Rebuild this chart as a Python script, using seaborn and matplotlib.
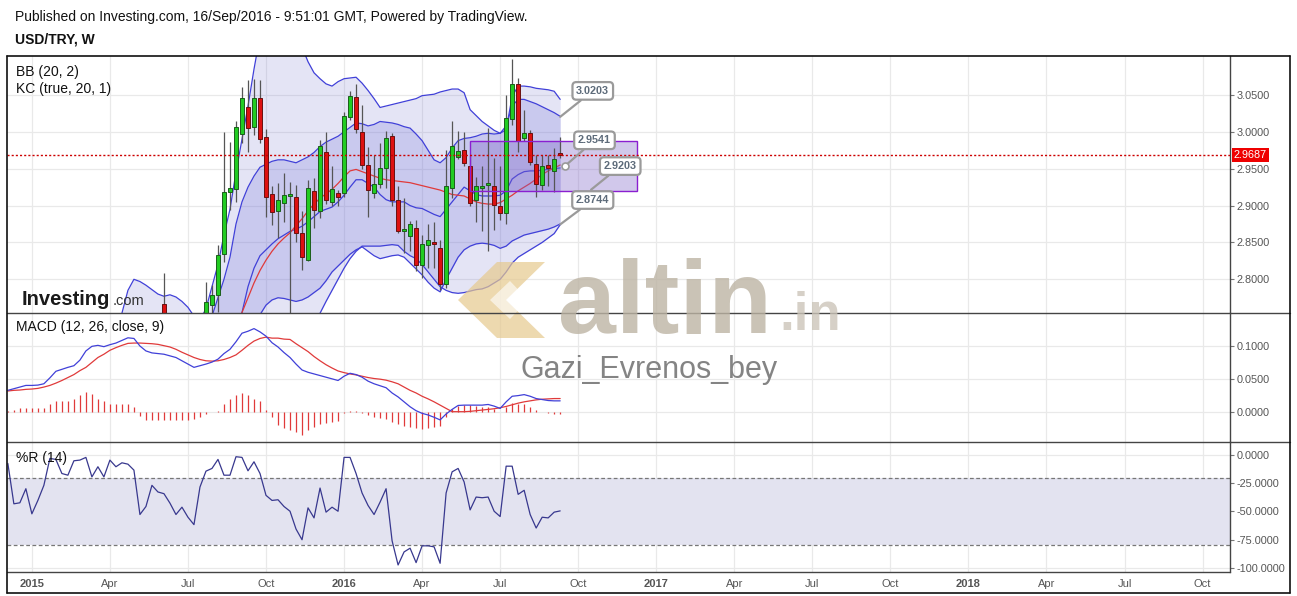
import numpy as np
import pandas as pd
import matplotlib
matplotlib.use("Agg")
import matplotlib.pyplot as plt
import matplotlib.dates as mdates
import matplotlib.transforms as mtransforms
from matplotlib.patches import Rectangle, Polygon
import seaborn as sns

sns.set_style("white")
plt.rcParams['font.family'] = ['Liberation Sans', 'DejaVu Sans']

# ---------------- data ----------------
candle_start = "2015-06-08"
candle_open = [2.767, 2.72, 2.69, 2.68, 2.685, 2.69, 2.68, 2.74, 2.7655, 2.779, 2.834, 2.918, 2.922, 2.997, 3.034,
               3.006, 3.0455, 2.9935, 2.9155, 2.892, 2.904, 2.913, 2.911, 2.8626, 2.826, 2.920, 2.893, 2.972, 2.9055,
               2.917, 2.917, 3.020, 3.047, 3.000, 2.955, 2.917, 2.929, 2.951, 2.995, 2.907, 2.866, 2.859, 2.869, 2.820,
               2.846, 2.850, 2.842, 2.793, 2.924, 2.966, 2.975, 2.954, 2.908, 2.924, 2.928, 2.926, 2.900, 2.890, 3.018,
               3.0645, 2.991, 2.998, 2.956, 2.928, 2.955, 2.947, 2.971]
candle_high = [2.808, 2.74, 2.71, 2.70, 2.70, 2.71, 2.72, 2.797, 2.7925, 2.847, 3.000, 2.986, 3.014, 3.061, 3.070,
               3.0717, 3.070, 3.004, 2.926, 2.930, 2.944, 2.9325, 2.928, 2.892, 2.935, 2.938, 2.989, 3.000, 2.953,
               2.921, 3.027, 3.055, 3.0645, 3.036, 2.980, 2.969, 2.985, 3.001, 2.998, 2.926, 2.910, 2.879, 2.881, 2.860,
               2.875, 2.878, 2.8535, 2.975, 3.014, 3.001, 3.000, 2.969, 2.939, 2.953, 3.005, 2.964, 2.953, 3.050, 3.0988,
               3.0726, 3.030, 3.0026, 2.969, 2.969, 2.9687, 2.978, 2.9935]
candle_low = [2.72, 2.68, 2.66, 2.66, 2.66, 2.66, 2.67, 2.71, 2.752, 2.755, 2.824, 2.894, 2.9055, 2.9845, 2.973, 2.996,
              2.985, 2.885, 2.874, 2.856, 2.878, 2.74, 2.851, 2.813, 2.825, 2.869, 2.883, 2.902, 2.900, 2.899, 2.911,
              3.016, 2.998, 2.950, 2.885, 2.910, 2.924, 2.924, 2.899, 2.863, 2.835, 2.838, 2.811, 2.802, 2.815, 2.815,
              2.786, 2.788, 2.910, 2.963, 2.953, 2.899, 2.878, 2.866, 2.838, 2.867, 2.881, 2.875, 3.009, 2.973, 2.987,
              2.955, 2.912, 2.921, 2.926, 2.919, 2.965]
candle_close = [2.725, 2.69, 2.68, 2.685, 2.69, 2.68, 2.71, 2.769, 2.779, 2.833, 2.919, 2.924, 3.007, 3.0455, 3.005,
                3.0465, 2.990, 2.911, 2.8906, 2.908, 2.9145, 2.915, 2.863, 2.830, 2.924, 2.894, 2.981, 2.907, 2.922,
                2.912, 3.0215, 3.048, 3.004, 2.955, 2.921, 2.929, 2.951, 2.991, 2.907, 2.866, 2.868, 2.875, 2.820,
                2.848, 2.853, 2.848, 2.794, 2.926, 2.981, 2.9745, 2.958, 2.903, 2.927, 2.926, 2.930, 2.901, 2.890,
                3.019, 3.0645, 2.988, 2.998, 2.959, 2.929, 2.953, 2.951, 2.963, 2.9687]

band_start = "2015-04-20"
bb_upper = [2.754, 2.785, 2.800, 2.797, 2.792, 2.786, 2.780, 2.777, 2.779, 2.776, 2.770, 2.762, 2.750, 2.745, 2.760,
            2.79, 2.82, 2.86, 2.895,
            2.945, 2.99, 3.035, 3.085, 3.13, 3.15, 3.16, 3.165, 3.16, 3.15,
            3.135, 3.115, 3.095, 3.08, 3.072, 3.065, 3.062, 3.068, 3.072, 3.073,
            3.074, 3.066, 3.056, 3.045, 3.033, 3.035, 3.037, 3.039, 3.041, 3.043,
            3.045, 3.049, 3.050, 3.051, 3.054, 3.056, 3.058, 3.058, 3.053, 3.030,
            3.022, 3.014, 3.008, 3.002, 2.998, 3.003, 3.048, 3.062, 3.062, 3.061,
            3.059, 3.058, 3.057, 3.055, 3.044]
bb_lower = [2.50, 2.51, 2.52, 2.53, 2.54, 2.55, 2.56, 2.57, 2.58, 2.59, 2.60, 2.61, 2.62, 2.63, 2.63, 2.63, 2.63,
            2.62, 2.61, 2.60, 2.60, 2.61, 2.62, 2.64, 2.65, 2.66, 2.67, 2.68,
            2.69, 2.70, 2.715, 2.73, 2.742, 2.754, 2.77, 2.785, 2.80, 2.815,
            2.828, 2.838, 2.845, 2.845, 2.845, 2.845, 2.846, 2.847, 2.846, 2.838,
            2.832, 2.828, 2.82, 2.81, 2.80, 2.79, 2.785, 2.782, 2.781, 2.782,
            2.784, 2.786, 2.787, 2.79, 2.795, 2.80, 2.81, 2.822, 2.83, 2.835,
            2.84, 2.845, 2.85, 2.856, 2.862, 2.874]
bb_basis = [2.60, 2.61, 2.62, 2.63, 2.64, 2.65, 2.655, 2.66, 2.665, 2.67, 2.675, 2.68, 2.685, 2.69, 2.695, 2.70,
            2.71, 2.72, 2.73,
            2.74, 2.755, 2.775, 2.795, 2.812, 2.826, 2.838, 2.848, 2.856, 2.863,
            2.873, 2.882, 2.893, 2.902, 2.910, 2.916, 2.922, 2.930, 2.939, 2.947,
            2.949, 2.946, 2.943, 2.940, 2.937, 2.935, 2.934, 2.933, 2.932, 2.931,
            2.929, 2.927, 2.925, 2.923, 2.921, 2.918, 2.915, 2.914, 2.913, 2.909,
            2.905, 2.903, 2.902, 2.902, 2.904, 2.909, 2.914, 2.920, 2.925, 2.930,
            2.936, 2.942, 2.947, 2.951, 2.955]
kc_upper = [2.68, 2.69, 2.70, 2.705, 2.71, 2.715, 2.72, 2.725, 2.725, 2.725, 2.725, 2.725, 2.728, 2.73, 2.74,
            2.75, 2.775, 2.80, 2.83, 2.875, 2.905, 2.925, 2.94, 2.952, 2.956,
            2.96, 2.962, 2.962, 2.960, 2.958, 2.962, 2.966, 2.972, 2.980, 2.986,
            2.990, 2.994, 3.000, 3.006, 3.012, 3.011, 3.008, 3.010, 3.014, 3.013,
            3.012, 3.010, 3.007, 3.005, 2.997, 2.988, 2.975, 2.962, 2.958, 2.965,
            2.978, 2.988, 2.991, 2.992, 2.994, 2.997, 2.998, 2.997, 2.998, 3.008,
            3.035, 3.044, 3.044, 3.041, 3.038, 3.034, 3.030, 3.026, 3.021]
kc_basis = [2.62, 2.63, 2.64, 2.645, 2.65, 2.655, 2.66, 2.665, 2.668, 2.67, 2.672, 2.675, 2.678, 2.68, 2.685, 2.69,
            2.70, 2.71, 2.72,
            2.735, 2.755, 2.79, 2.815, 2.832, 2.84, 2.848, 2.855, 2.86, 2.865,
            2.868, 2.872, 2.878, 2.885, 2.892, 2.895, 2.898, 2.905, 2.914, 2.925,
            2.935, 2.935, 2.93, 2.925, 2.915, 2.908, 2.905, 2.905, 2.905, 2.90,
            2.897, 2.896, 2.892, 2.888, 2.885, 2.895, 2.905, 2.915, 2.925, 2.92,
            2.915, 2.913, 2.913, 2.913, 2.914, 2.92, 2.936, 2.942, 2.946, 2.947,
            2.947, 2.948, 2.949, 2.95, 2.951]
kc_lower = [2.55, 2.56, 2.57, 2.575, 2.58, 2.585, 2.59, 2.595, 2.60, 2.60, 2.60, 2.605, 2.61, 2.61, 2.615, 2.62,
            2.625, 2.63, 2.645,
            2.66, 2.70, 2.72, 2.74, 2.752, 2.765, 2.772, 2.775, 2.774, 2.772,
            2.770, 2.772, 2.776, 2.782, 2.788, 2.798, 2.810, 2.818, 2.826, 2.834,
            2.840, 2.844, 2.838, 2.832, 2.828, 2.830, 2.832, 2.833, 2.83, 2.822,
            2.814, 2.806, 2.796, 2.788, 2.783, 2.80, 2.815, 2.83, 2.84, 2.845,
            2.848, 2.849, 2.848, 2.846, 2.842, 2.845, 2.852, 2.856, 2.86, 2.862,
            2.864, 2.866, 2.868, 2.871, 2.875]

osc_start = "2014-12-08"
macd_line = [0.0325, 0.035, 0.0375, 0.040, 0.040, 0.0405, 0.0425, 0.0515, 0.0615, 0.0645, 0.0675, 0.070, 0.0785,
             0.0925, 0.0995, 0.101, 0.099, 0.102, 0.1045, 0.1085, 0.1125, 0.1115, 0.100, 0.0925, 0.0895, 0.0885,
             0.0875, 0.085, 0.0825, 0.0775, 0.0725, 0.0675, 0.070, 0.0725, 0.0755, 0.080, 0.0885, 0.095, 0.1065,
             0.1195, 0.1225, 0.1265, 0.1215, 0.115, 0.105, 0.0985, 0.090, 0.0825, 0.0725, 0.0635, 0.060, 0.0575,
             0.055, 0.0525, 0.050, 0.0475, 0.054, 0.0585, 0.0565, 0.0525, 0.0465, 0.0425, 0.0395, 0.0365, 0.0285,
             0.0225, 0.015, 0.0075, 0.0015, -0.0025, -0.005, -0.0085, -0.0125, -0.0035, 0.0035, 0.0095, 0.010, 0.010,
             0.010, 0.010, 0.011, 0.0085, 0.005, 0.015, 0.0235, 0.0245, 0.026, 0.0235, 0.020, 0.0185, 0.017, 0.0165,
             0.0165]
macd_signal = [0.0315, 0.0325, 0.033, 0.034, 0.0345, 0.0355, 0.0375, 0.040, 0.0435, 0.0475, 0.052, 0.0565, 0.0625,
               0.0675, 0.075, 0.0825, 0.0875, 0.0935, 0.0975, 0.101, 0.104, 0.1045, 0.1045, 0.104, 0.1035, 0.1025,
               0.1005, 0.0985, 0.095, 0.0905, 0.0865, 0.0825, 0.0795, 0.0775, 0.077, 0.0775, 0.0795, 0.0825, 0.0865,
               0.0935, 0.101, 0.1075, 0.1115, 0.1135, 0.112, 0.112, 0.1105, 0.110, 0.1035, 0.0975, 0.0915, 0.084,
               0.0775, 0.0715, 0.0665, 0.062, 0.0595, 0.0575, 0.056, 0.054, 0.052, 0.0505, 0.0495, 0.048, 0.0455,
               0.0425, 0.0375, 0.0325, 0.0285, 0.0235, 0.0195, 0.015, 0.010, 0.005, 0.0, 0.0, 0.0, 0.0005, 0.0015,
               0.0025, 0.0035, 0.0045, 0.006, 0.008, 0.0105, 0.013, 0.015, 0.0165, 0.018, 0.019, 0.0195, 0.020, 0.020]
macd_hist = [0.001, 0.003, 0.005, 0.006, 0.005, 0.005, 0.006, 0.011, 0.017, 0.017, 0.017, 0.019, 0.026, 0.030, 0.027,
             0.020, 0.016, 0.012, 0.012, 0.012, 0.011, 0.007, -0.006, -0.012, -0.013, -0.013, -0.013, -0.013, -0.012,
             -0.013, -0.013, -0.011, -0.008, -0.004, -0.001, 0.001, 0.011, 0.019, 0.025, 0.029, 0.026, 0.020, 0.016,
             0.003, -0.008, -0.020, -0.025, -0.028, -0.031, -0.035, -0.028, -0.024, -0.018, -0.017, -0.015, -0.014,
             -0.002, 0.001, 0.0005, -0.002, -0.005, -0.008, -0.010, -0.011, -0.016, -0.019, -0.022, -0.024, -0.025,
             -0.026, -0.025, -0.023, -0.022, -0.008, 0.004, 0.009, 0.010, 0.010, 0.008, 0.007, 0.007, 0.004, -0.001,
             0.007, 0.013, 0.012, 0.011, 0.007, 0.002, -0.0005, -0.0025, -0.0035, -0.0035]
williams_r = [-7.5, -43.3, -42.4, -29.9, -52.2, -40.3, -26.9, -3.0, -3.9, -16.4, -17.9, -5.1, -4.5, -2.1, -19.4,
              -10.4, -19.4, -4.5, -10.4, -6.9, -8.1, -13.4, -52.8, -45.7, -26.9, -32.8, -34.3, -42.7, -52.8, -46.3,
              -55.2, -61.8, -28.4, -14.3, -11.9, -3.9, -17.9, -17.9, -1.5, -2.1, -14.0, -6.0, -16.4, -35.8, -40.3,
              -39.7, -45.7, -49.9, -65.7, -75.2, -46.9, -55.8, -29.3, -50.7, -46.3, -49.9, -2.1, -2.1, -16.4, -33.7,
              -44.8, -52.8, -41.8, -29.9, -76.1, -97.6, -86.0, -82.7, -95.5, -80.6, -80.6, -81.5, -96.1, -33.7,
              -14.9, -11.9, -23.9, -48.7, -37.3, -37.9, -37.3, -49.9, -54.6, -9.9, -9.9, -34.9, -31.3, -52.8, -64.8,
              -55.2, -55.8, -50.7, -49.6]

last_price = 2.9687
callout_values = ["3.0203", "2.9541", "2.9203", "2.8744"]
box_top, box_bottom = 2.9877, 2.9203
price_ticks = [2.80, 2.85, 2.90, 2.95, 3.00, 3.05]
macd_ticks = [0.0, 0.05, 0.10]
wr_ticks = [0, -25, -50, -75, -100]
quarter_ticks = ["2015-01-05", "2015-04-06", "2015-07-06", "2015-10-05", "2016-01-04", "2016-04-04", "2016-07-04",
                 "2016-10-03", "2017-01-02", "2017-04-03", "2017-07-03", "2017-10-02", "2018-01-01", "2018-04-02",
                 "2018-07-02", "2018-10-01"]
quarter_labels = ["2015", "Apr", "Jul", "Oct", "2016", "Apr", "Jul", "Oct", "2017", "Apr", "Jul", "Oct", "2018",
                  "Apr", "Jul", "Oct"]

# ---------------- frames ----------------
cd = mdates.date2num(pd.date_range(candle_start, periods=len(candle_open), freq="7D"))
bd = mdates.date2num(pd.date_range(band_start, periods=len(bb_upper), freq="7D"))
od = mdates.date2num(pd.date_range(osc_start, periods=len(macd_line), freq="7D"))
bands = pd.DataFrame(dict(t=bd, bbu=bb_upper, bbl=bb_lower, bbm=bb_basis, kcu=kc_upper, kcm=kc_basis,
                          kcl=kc_lower))
osc = pd.DataFrame(dict(t=od, macd=macd_line, sig=macd_signal, histo=macd_hist, wr=williams_r))

W, H = 1297, 596
def fx(px): return px / W
def fy(py): return 1 - py / H

fig = plt.figure(figsize=(W / 100, H / 100), dpi=100)
L, R = 7, 1230
T0, T1, T2, T3 = 56.3, 313.3, 442.3, 572.3
ax_p = fig.add_axes([fx(L), fy(T1), fx(R) - fx(L), fy(T0) - fy(T1)])
ax_m = fig.add_axes([fx(L), fy(T2), fx(R) - fx(L), fy(T1) - fy(T2)], sharex=ax_p)
ax_r = fig.add_axes([fx(L), fy(T3), fx(R) - fx(L), fy(T2) - fy(T3)], sharex=ax_p)

xmin = mdates.date2num(pd.Timestamp("2014-12-07"))
xmax = mdates.date2num(pd.Timestamp("2018-11-02"))
qt = mdates.date2num(pd.to_datetime(quarter_ticks))

grid_c = "#e9e9e9"
txt_c = "#555555"
for ax in (ax_p, ax_m, ax_r):
    ax.set_facecolor("white")
    for s in ("top", "bottom", "left"):
        ax.spines[s].set_visible(False)
    ax.spines["right"].set_color("#444444")
    ax.spines["right"].set_linewidth(1.0)
    ax.yaxis.tick_right()
    ax.tick_params(axis="y", direction="out", length=3, width=0.8, colors="#777777",
                   labelcolor=txt_c, labelsize=7.8, pad=2)
    for q in qt:
        ax.axvline(q, color=grid_c, lw=0.9, zorder=0)

# ---- price panel ----
for v in price_ticks:
    ax_p.axhline(v, color=grid_c, lw=0.9, zorder=0)

ax_p.fill_between(bands.t, bands.bbl, bands.bbu, color="#7a7ad0", alpha=0.20, lw=0, zorder=1)
ax_p.fill_between(bands.t, bands.kcl, bands.kcu, color="#6a6ad8", alpha=0.22, lw=0, zorder=1)
line_c = "#4040d8"
for col in ("bbu", "bbl", "kcu", "kcm", "kcl"):
    sns.lineplot(data=bands, x="t", y=col, ax=ax_p, color=line_c, lw=0.9, zorder=2, legend=False)
sns.lineplot(data=bands, x="t", y="bbm", ax=ax_p, color="#e03a3a", lw=0.9, zorder=2, legend=False)

# purple box
bx0 = mdates.date2num(pd.Timestamp("2016-05-30"))
bx1 = mdates.date2num(pd.Timestamp("2016-12-10"))
ax_p.add_patch(Rectangle((bx0, box_bottom), bx1 - bx0, box_top - box_bottom,
                         facecolor="#7d62c8", alpha=0.35, edgecolor="none", zorder=3))
ax_p.add_patch(Rectangle((bx0, box_bottom), bx1 - bx0, box_top - box_bottom,
                         facecolor="none", edgecolor="#8a1fd0", lw=1.0, zorder=6))

# candles
o = np.array(candle_open); c = np.array(candle_close)
hi = np.array(candle_high); lo = np.array(candle_low)
up = c >= o
ax_p.vlines(cd, lo, hi, color="#555555", lw=0.9, zorder=4)
ax_p.bar(cd[up], (c - o)[up], bottom=o[up], width=5.0, color="#22cc22", edgecolor="#1b5e1b", lw=0.7, zorder=5)
ax_p.bar(cd[~up], (c - o)[~up], bottom=o[~up], width=5.0, color="#dd1111", edgecolor="#6a1010", lw=0.7, zorder=5)

ax_p.axhline(last_price, color="#cc0000", lw=1.0, ls=(0, (1.5, 1.5)), zorder=6)
trans = mtransforms.blended_transform_factory(ax_p.transAxes, ax_p.transData)
ax_p.text(1.003, last_price, f"{last_price:.4f}", transform=trans, ha="left", va="center", color="white",
          fontsize=7.8, bbox=dict(boxstyle="square,pad=0.2", fc="#ee0000", ec="none"), zorder=10, clip_on=False)

# callouts
last_t = cd[-1]
call_pts = [(last_t, 3.0203), (last_t + 6, 2.9541), (last_t + 36, 2.9215), (last_t, 2.8744)]
call_txt = [(last_t + 38, 3.0555), (last_t + 40, 2.9885), (last_t + 70, 2.9535), (last_t + 38, 2.9075)]
for lab, p, tp in zip(callout_values, call_pts, call_txt):
    ax_p.annotate(lab, xy=p, xytext=tp, textcoords="data", ha="center", va="center", fontsize=7.8,
                  fontweight="bold", color="#5d6b7a", zorder=12,
                  bbox=dict(boxstyle="round,pad=0.35", fc="white", ec="#9a9a9a", lw=1.6),
                  arrowprops=dict(arrowstyle="-", color="#9a9a9a", lw=1.6, shrinkA=0, shrinkB=0))
ax_p.plot([last_t + 6], [2.9541], marker="o", ms=5, mfc="white", mec="#999999", mew=1.2, zorder=13)

# ---- MACD panel ----
for v in macd_ticks:
    ax_m.axhline(v, color=grid_c, lw=0.9, zorder=0)
ax_m.vlines(osc["t"].values, 0, osc["histo"].values, color="#e03a3a", lw=0.9, zorder=2)
sns.lineplot(data=osc, x="t", y="sig", ax=ax_m, color="#e03a3a", lw=0.9, zorder=3, legend=False)
sns.lineplot(data=osc, x="t", y="macd", ax=ax_m, color="#4040d8", lw=0.9, zorder=4, legend=False)

# ---- %R panel ----
for v in wr_ticks:
    ax_r.axhline(v, color=grid_c, lw=0.9, zorder=0)
ax_r.axhspan(-80, -20, color="#e3e3f0", zorder=0.5, lw=0)
ax_r.axhline(-20, color="#777777", lw=0.9, ls=(0, (3, 2)), zorder=1)
ax_r.axhline(-80, color="#777777", lw=0.9, ls=(0, (3, 2)), zorder=1)
sns.lineplot(data=osc, x="t", y="wr", ax=ax_r, color="#38388e", lw=0.9, zorder=3, legend=False)

# ---- limits / ticks (after seaborn) ----
ax_p.set_ylim(2.7539, 3.1024)
ax_p.set_yticks(price_ticks)
ax_p.set_yticklabels([f"{v:.4f}" for v in price_ticks])
ax_m.set_ylim(-0.0466, 0.1498)
ax_m.set_yticks(macd_ticks)
ax_m.set_yticklabels([f"{v:.4f}" for v in macd_ticks])
ax_r.set_ylim(-104.1, 11.3)
ax_r.set_yticks(wr_ticks)
ax_r.set_yticklabels([f"{v:.4f}" for v in wr_ticks])
for ax in (ax_p, ax_m, ax_r):
    ax.set_xlim(xmin, xmax)
    ax.set_xticks(qt)
    ax.set_ylabel("")
    ax.set_xlabel("")
for ax in (ax_p, ax_m):
    ax.tick_params(axis="x", length=0, labelbottom=False)
ax_r.tick_params(axis="x", length=3, colors="#777777", labelcolor=txt_c, labelsize=8, pad=2)
ax_r.set_xticklabels(quarter_labels)
for lbl in ax_r.get_xticklabels():
    if lbl.get_text().isdigit():
        lbl.set_fontweight("bold")

# ---- frame lines ----
def hline(y, x0, x1, c="#333333", lw=1.0):
    fig.add_artist(plt.Line2D([fx(x0), fx(x1)], [fy(y), fy(y)], color=c, lw=lw, transform=fig.transFigure))
def vline(x, y0, y1, c="#333333", lw=1.0):
    fig.add_artist(plt.Line2D([fx(x), fx(x)], [fy(y0), fy(y1)], color=c, lw=lw, transform=fig.transFigure))
hline(T0, L, 1290, "#111111", 1.2)
hline(T1, L, 1290, "#444444", 1.0)
hline(T2, L, 1290, "#444444", 1.0)
hline(T3, L, R, "#444444", 1.0)
hline(593, L, 1290, "#111111", 1.2)
vline(L, T0, 593, "#111111", 1.2)
vline(1290, T0, 593, "#111111", 1.2)

# ---- texts ----
fig.text(fx(15), fy(17), "Published on Investing.com, 16/Sep/2016 - 9:51:01 GMT, Powered by TradingView.",
         fontsize=10, va="center", ha="left", color="#111111")
fig.text(fx(15), fy(40), "USD/TRY, W", fontsize=10, fontweight="bold", va="center", ha="left", color="#111111")
fig.text(fx(16), fy(72), "BB (20, 2)", fontsize=10, va="center", color="#111111")
fig.text(fx(16), fy(89), "KC (true, 20, 1)", fontsize=10, va="center", color="#111111")
fig.text(fx(16), fy(327), "MACD (12, 26, close, 9)", fontsize=10, va="center", color="#111111")
fig.text(fx(16), fy(458), "%R (14)", fontsize=10, va="center", color="#111111")

# watermarks
fig.text(fx(22), fy(305), "Investing", fontsize=14.5, fontweight="bold", color="#1a1a1a", va="baseline")
fig.text(fx(113), fy(305), ".com", fontsize=10.5, color="#333333", va="baseline")
logo1 = Polygon([[fx(458), fy(300)], [fx(497), fy(262)], [fx(545), fy(262)], [fx(506), fy(300)],
                 [fx(545), fy(338)], [fx(497), fy(338)]], closed=True, transform=fig.transFigure,
                facecolor="#e6c98e", alpha=0.7, edgecolor="none")
fig.add_artist(logo1)
logo2 = Polygon([[fx(490), fy(300)], [fx(510), fy(281)], [fx(528), fy(300)], [fx(510), fy(319)]],
                closed=True, transform=fig.transFigure, facecolor="white", alpha=0.6, edgecolor="none")
fig.add_artist(logo2)
fig.text(fx(558), fy(333), "altin", fontsize=75, fontweight="bold", color="#bdb4a4", alpha=0.8, va="baseline")
fig.text(fx(779), fy(330), ".in", fontsize=38, fontweight="bold", color="#ccc5b9", alpha=0.8, va="baseline")
fig.text(fx(520), fy(378), "Gazi_Evrenos_bey", fontsize=22, color="#777777", alpha=0.9, va="baseline")

fig.savefig("out.png", dpi=100)
